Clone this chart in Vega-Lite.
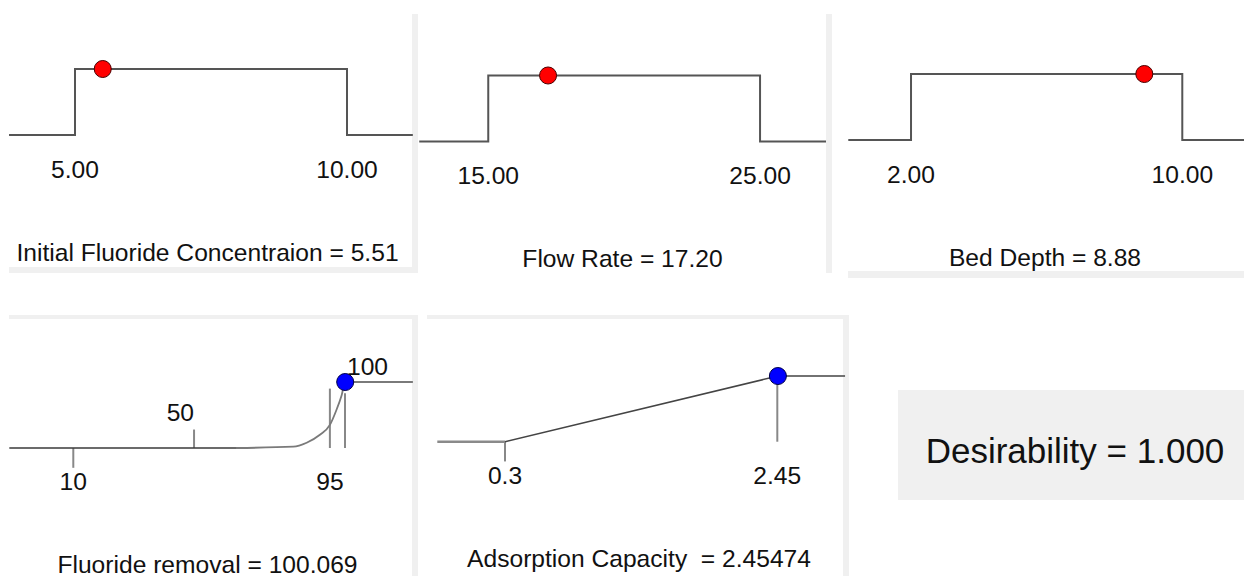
{
  "$schema": "https://vega.github.io/schema/vega-lite/v6.json",
  "padding": 0,
  "background": "white",
  "config": {
    "view": {"stroke": null},
    "text": {"font": "Liberation Sans", "fontSize": 24.6, "color": "#111111"},
    "title": {"font": "Liberation Sans", "fontSize": 24.6, "fontWeight": "normal", "color": "#111111"},
    "rule": {"color": "#f0f0f0"}
  },
  "datasets": {
    "conc": [
      {"part": "ramp", "i": 1, "x": 3.79, "d": 0},
      {"part": "ramp", "i": 2, "x": 5, "d": 0},
      {"part": "ramp", "i": 3, "x": 5, "d": 1},
      {"part": "ramp", "i": 4, "x": 10, "d": 1},
      {"part": "ramp", "i": 5, "x": 10, "d": 0},
      {"part": "ramp", "i": 6, "x": 11.21, "d": 0},
      {"part": "optimum", "x": 5.51, "d": 1},
      {"part": "limit", "x": 5, "label": "5.00"},
      {"part": "limit", "x": 10, "label": "10.00"}
    ],
    "flow": [
      {"part": "ramp", "i": 1, "x": 12.46, "d": 0},
      {"part": "ramp", "i": 2, "x": 15, "d": 0},
      {"part": "ramp", "i": 3, "x": 15, "d": 1},
      {"part": "ramp", "i": 4, "x": 25, "d": 1},
      {"part": "ramp", "i": 5, "x": 25, "d": 0},
      {"part": "ramp", "i": 6, "x": 27.5, "d": 0},
      {"part": "optimum", "x": 17.2, "d": 1},
      {"part": "limit", "x": 15, "label": "15.00"},
      {"part": "limit", "x": 25, "label": "25.00"}
    ],
    "bed": [
      {"part": "ramp", "i": 1, "x": 0.15, "d": 0},
      {"part": "ramp", "i": 2, "x": 2, "d": 0},
      {"part": "ramp", "i": 3, "x": 2, "d": 1},
      {"part": "ramp", "i": 4, "x": 10, "d": 1},
      {"part": "ramp", "i": 5, "x": 10, "d": 0},
      {"part": "ramp", "i": 6, "x": 11.82, "d": 0},
      {"part": "optimum", "x": 8.88, "d": 1},
      {"part": "limit", "x": 2, "label": "2.00"},
      {"part": "limit", "x": 10, "label": "10.00"}
    ],
    "removal": [
      {"part": "base", "i": 1, "x": -11.2, "d": 0},
      {"part": "base", "i": 2, "x": 64.2, "d": 0},
      {"part": "curve", "i": 1, "x": 64.2, "d": 0},
      {"part": "curve", "i": 2, "x": 82.9, "d": 0.02},
      {"part": "curve", "i": 3, "x": 87.3, "d": 0.08},
      {"part": "curve", "i": 4, "x": 91.7, "d": 0.2},
      {"part": "curve", "i": 5, "x": 95, "d": 0.35},
      {"part": "curve", "i": 6, "x": 97.2, "d": 0.58},
      {"part": "curve", "i": 7, "x": 98.9, "d": 0.8},
      {"part": "curve", "i": 8, "x": 100.069, "d": 1},
      {"part": "curve", "i": 9, "x": 122.5, "d": 1},
      {"part": "tick", "x": 10, "d": 0, "d2": -0.3},
      {"part": "tick", "x": 50, "d": 0, "d2": 0.28},
      {"part": "tick", "x": 95, "d": 0, "d2": 0.9},
      {"part": "tick", "x": 100, "d": 0, "d2": 0.83},
      {"part": "optimum", "x": 100.069, "d": 1},
      {"part": "limit", "x": 10, "label": "10"},
      {"part": "limit", "x": 95, "label": "95"},
      {"part": "range_low", "x": 50, "label": "50"},
      {"part": "range_high", "x": 100, "label": "100"}
    ],
    "capacity": [
      {"part": "low", "i": 1, "x": -0.2345, "d": 0},
      {"part": "low", "i": 2, "x": 0.3, "d": 0},
      {"part": "ramp", "i": 1, "x": 0.3, "d": 0},
      {"part": "ramp", "i": 2, "x": 2.45474, "d": 1},
      {"part": "ramp", "i": 3, "x": 2.985, "d": 1},
      {"part": "tick", "x": 0.3, "d": 0, "d2": -0.3},
      {"part": "tick", "x": 2.45, "d": 0, "d2": 1},
      {"part": "optimum", "x": 2.45474, "d": 1},
      {"part": "limit", "x": 0.3, "label": "0.3"},
      {"part": "limit", "x": 2.45, "label": "2.45"}
    ],
    "overall": [
      {"label": "Desirability = 1.000", "desirability": 1.0}
    ]
  },
  "spacing": 0,
  "vconcat": [
    {
      "spacing": 0,
      "bounds": "flush",
      "hconcat": [
        {
          "width": 419,
          "height": 314,
          "title": {"text": "Initial Fluoride Concentraion = 5.51", "orient": "bottom", "baseline": "alphabetic", "offset": -53, "dx": -2},
          "data": {"name": "conc"},
          "layer": [
            {
              "transform": [{"filter": "datum.part === 'ramp'"}],
              "mark": {"type": "line", "color": "#555555", "strokeWidth": 2},
              "encoding": {
                "x": {"field": "x", "type": "quantitative", "axis": null, "scale": {"domain": [3.6213, 11.3235], "nice": false, "zero": false}},
                "y": {"field": "d", "type": "quantitative", "axis": null, "scale": {"domain": [-2.712, 2.0455], "nice": false, "zero": false}},
                "order": {"field": "i", "type": "quantitative"}
              }
            },
            {
              "mark": {"type": "rule", "strokeWidth": 6},
              "encoding": {
                "x": {"datum": 11.25, "type": "quantitative"},
                "y": {"datum": 1.833, "type": "quantitative"},
                "y2": {"datum": -2.09}
              }
            },
            {
              "mark": {"type": "rule", "strokeWidth": 6},
              "encoding": {
                "x": {"datum": 3.79, "type": "quantitative"},
                "x2": {"datum": 11.305},
                "y": {"datum": -2.045, "type": "quantitative"}
              }
            },
            {
              "transform": [{"filter": "datum.part === 'ramp'"}],
              "mark": {"type": "line", "color": "#555555", "strokeWidth": 2},
              "encoding": {
                "x": {"field": "x", "type": "quantitative"},
                "y": {"field": "d", "type": "quantitative"},
                "order": {"field": "i", "type": "quantitative"}
              }
            },
            {
              "transform": [{"filter": "datum.part === 'optimum'"}],
              "mark": {"type": "circle", "size": 290, "fill": "#ff0000", "stroke": "#4a0000", "strokeWidth": 1, "opacity": 1},
              "encoding": {
                "x": {"field": "x", "type": "quantitative"},
                "y": {"field": "d", "type": "quantitative"}
              }
            },
            {
              "transform": [{"filter": "datum.part === 'limit'"}],
              "mark": {"type": "text", "baseline": "middle", "align": "center", "dy": 36},
              "encoding": {
                "x": {"field": "x", "type": "quantitative"},
                "y": {"datum": 0, "type": "quantitative"},
                "text": {"field": "label", "type": "nominal"}
              }
            }
          ]
        },
        {
          "width": 419,
          "height": 314,
          "title": {"text": "Flow Rate = 17.20", "orient": "bottom", "baseline": "alphabetic", "offset": -47, "dx": -6},
          "data": {"name": "flow"},
          "layer": [
            {
              "transform": [{"filter": "datum.part === 'ramp'"}],
              "mark": {"type": "line", "color": "#555555", "strokeWidth": 2},
              "encoding": {
                "x": {"field": "x", "type": "quantitative", "axis": null, "scale": {"domain": [12.452, 27.868], "nice": false, "zero": false}},
                "y": {"field": "d", "type": "quantitative", "axis": null, "scale": {"domain": [-2.614, 2.144], "nice": false, "zero": false}},
                "order": {"field": "i", "type": "quantitative"}
              }
            },
            {
              "mark": {"type": "rule", "strokeWidth": 6},
              "encoding": {
                "x": {"datum": 27.537, "type": "quantitative"},
                "y": {"datum": 1.932, "type": "quantitative"},
                "y2": {"datum": -1.992}
              }
            },
            {
              "transform": [{"filter": "datum.part === 'optimum'"}],
              "mark": {"type": "circle", "size": 290, "fill": "#ff0000", "stroke": "#4a0000", "strokeWidth": 1, "opacity": 1},
              "encoding": {
                "x": {"field": "x", "type": "quantitative"},
                "y": {"field": "d", "type": "quantitative"}
              }
            },
            {
              "transform": [{"filter": "datum.part === 'limit'"}],
              "mark": {"type": "text", "baseline": "middle", "align": "center", "dy": 36},
              "encoding": {
                "x": {"field": "x", "type": "quantitative"},
                "y": {"datum": 0, "type": "quantitative"},
                "text": {"field": "label", "type": "nominal"}
              }
            }
          ]
        },
        {
          "width": 406,
          "height": 314,
          "title": {"text": "Bed Depth = 8.88", "orient": "bottom", "baseline": "alphabetic", "offset": -48, "dx": 4},
          "data": {"name": "bed"},
          "layer": [
            {
              "transform": [{"filter": "datum.part === 'ramp'"}],
              "mark": {"type": "line", "color": "#555555", "strokeWidth": 2},
              "encoding": {
                "x": {"field": "x", "type": "quantitative", "axis": null, "scale": {"domain": [-0.1534, 11.82], "nice": false, "zero": false}},
                "y": {"field": "d", "type": "quantitative", "axis": null, "scale": {"domain": [-2.636, 2.1212], "nice": false, "zero": false}},
                "order": {"field": "i", "type": "quantitative"}
              }
            },
            {
              "mark": {"type": "rule", "strokeWidth": 7},
              "encoding": {
                "x": {"datum": 0.15, "type": "quantitative"},
                "x2": {"datum": 11.82},
                "y": {"datum": -2.038, "type": "quantitative"}
              }
            },
            {
              "transform": [{"filter": "datum.part === 'optimum'"}],
              "mark": {"type": "circle", "size": 290, "fill": "#ff0000", "stroke": "#4a0000", "strokeWidth": 1, "opacity": 1},
              "encoding": {
                "x": {"field": "x", "type": "quantitative"},
                "y": {"field": "d", "type": "quantitative"}
              }
            },
            {
              "transform": [{"filter": "datum.part === 'limit'"}],
              "mark": {"type": "text", "baseline": "middle", "align": "center", "dy": 36},
              "encoding": {
                "x": {"field": "x", "type": "quantitative"},
                "y": {"datum": 0, "type": "quantitative"},
                "text": {"field": "label", "type": "nominal"}
              }
            }
          ]
        }
      ]
    },
    {
      "spacing": 0,
      "bounds": "flush",
      "center": true,
      "hconcat": [
        {
          "width": 419,
          "height": 262,
          "title": {"text": "Fluoride removal = 100.069", "orient": "bottom", "baseline": "alphabetic", "offset": -6, "dx": -2},
          "data": {"name": "removal"},
          "layer": [
            {
              "transform": [{"filter": "datum.part === 'tick'"}],
              "mark": {"type": "rule", "color": "#888888", "strokeWidth": 2},
              "encoding": {
                "x": {"field": "x", "type": "quantitative", "axis": null, "scale": {"domain": [-14.28, 124.52], "nice": false, "zero": false}},
                "y": {"field": "d", "type": "quantitative", "axis": null, "scale": {"domain": [-1.939, 2.0303], "nice": false, "zero": false}},
                "y2": {"field": "d2"}
              }
            },
            {
              "mark": {"type": "rule", "strokeWidth": 4},
              "encoding": {
                "x": {"datum": -11.2, "type": "quantitative"},
                "x2": {"datum": 124.18},
                "y": {"datum": 1.985, "type": "quantitative"}
              }
            },
            {
              "mark": {"type": "rule", "strokeWidth": 6},
              "encoding": {
                "x": {"datum": 123.19, "type": "quantitative"},
                "y": {"datum": 1.97, "type": "quantitative"},
                "y2": {"datum": -1.939}
              }
            },
            {
              "transform": [{"filter": "datum.part === 'base'"}],
              "mark": {"type": "line", "color": "#3a3a3a", "strokeWidth": 1.6},
              "encoding": {
                "x": {"field": "x", "type": "quantitative"},
                "y": {"field": "d", "type": "quantitative"},
                "order": {"field": "i", "type": "quantitative"}
              }
            },
            {
              "transform": [{"filter": "datum.part === 'curve'"}],
              "mark": {"type": "line", "color": "#7a7a7a", "strokeWidth": 1.8, "interpolate": "monotone"},
              "encoding": {
                "x": {"field": "x", "type": "quantitative"},
                "y": {"field": "d", "type": "quantitative"},
                "order": {"field": "i", "type": "quantitative"}
              }
            },
            {
              "transform": [{"filter": "datum.part === 'optimum'"}],
              "mark": {"type": "circle", "size": 290, "fill": "#0000ff", "stroke": "#00004a", "strokeWidth": 1, "opacity": 1},
              "encoding": {
                "x": {"field": "x", "type": "quantitative"},
                "y": {"field": "d", "type": "quantitative"}
              }
            },
            {
              "transform": [{"filter": "datum.part === 'limit'"}],
              "mark": {"type": "text", "baseline": "middle", "align": "center", "dy": 35},
              "encoding": {
                "x": {"field": "x", "type": "quantitative"},
                "y": {"datum": 0, "type": "quantitative"},
                "text": {"field": "label", "type": "nominal"}
              }
            },
            {
              "transform": [{"filter": "datum.part === 'range_low'"}],
              "mark": {"type": "text", "baseline": "middle", "align": "right", "dy": -34},
              "encoding": {
                "x": {"field": "x", "type": "quantitative"},
                "y": {"datum": 0, "type": "quantitative"},
                "text": {"field": "label", "type": "nominal"}
              }
            },
            {
              "transform": [{"filter": "datum.part === 'range_high'"}],
              "mark": {"type": "text", "baseline": "middle", "align": "left", "dx": 2, "dy": -14},
              "encoding": {
                "x": {"field": "x", "type": "quantitative"},
                "y": {"datum": 1, "type": "quantitative"},
                "text": {"field": "label", "type": "nominal"}
              }
            }
          ]
        },
        {
          "width": 479,
          "height": 262,
          "title": {"text": "Adsorption Capacity \u00a0= 2.45474", "orient": "bottom", "baseline": "alphabetic", "offset": -12, "dx": -19.5},
          "data": {"name": "capacity"},
          "layer": [
            {
              "transform": [{"filter": "datum.part === 'tick'"}],
              "mark": {"type": "rule", "color": "#888888", "strokeWidth": 2},
              "encoding": {
                "x": {"field": "x", "type": "quantitative", "axis": null, "scale": {"domain": [-0.379, 3.403], "nice": false, "zero": false}},
                "y": {"field": "d", "type": "quantitative", "axis": null, "scale": {"domain": [-2.044, 1.944], "nice": false, "zero": false}},
                "y2": {"field": "d2"}
              }
            },
            {
              "mark": {"type": "rule", "strokeWidth": 4},
              "encoding": {
                "x": {"datum": -0.316, "type": "quantitative"},
                "x2": {"datum": 3.016},
                "y": {"datum": 1.898, "type": "quantitative"}
              }
            },
            {
              "mark": {"type": "rule", "strokeWidth": 6},
              "encoding": {
                "x": {"datum": 2.9924, "type": "quantitative"},
                "y": {"datum": 1.883, "type": "quantitative"},
                "y2": {"datum": -2.044}
              }
            },
            {
              "transform": [{"filter": "datum.part === 'low'"}],
              "mark": {"type": "line", "color": "#8a8a8a", "strokeWidth": 2.6},
              "encoding": {
                "x": {"field": "x", "type": "quantitative"},
                "y": {"field": "d", "type": "quantitative"},
                "order": {"field": "i", "type": "quantitative"}
              }
            },
            {
              "transform": [{"filter": "datum.part === 'ramp'"}],
              "mark": {"type": "line", "color": "#444444", "strokeWidth": 1.5},
              "encoding": {
                "x": {"field": "x", "type": "quantitative"},
                "y": {"field": "d", "type": "quantitative"},
                "order": {"field": "i", "type": "quantitative"}
              }
            },
            {
              "transform": [{"filter": "datum.part === 'optimum'"}],
              "mark": {"type": "circle", "size": 290, "fill": "#0000ff", "stroke": "#00004a", "strokeWidth": 1, "opacity": 1},
              "encoding": {
                "x": {"field": "x", "type": "quantitative"},
                "y": {"field": "d", "type": "quantitative"}
              }
            },
            {
              "transform": [{"filter": "datum.part === 'limit'"}],
              "mark": {"type": "text", "baseline": "middle", "align": "center", "dy": 35},
              "encoding": {
                "x": {"field": "x", "type": "quantitative"},
                "y": {"datum": 0, "type": "quantitative"},
                "text": {"field": "label", "type": "nominal"}
              }
            }
          ]
        },
        {
          "width": 346,
          "height": 110,
          "data": {"name": "overall"},
          "layer": [
            {
              "mark": {"type": "rect", "color": "#f0f0f0"},
              "encoding": {}
            },
            {
              "mark": {"type": "text", "fontSize": 35, "baseline": "middle", "align": "center", "dx": 4, "dy": 7},
              "encoding": {"text": {"field": "label", "type": "nominal"}}
            }
          ]
        }
      ]
    }
  ]
}
